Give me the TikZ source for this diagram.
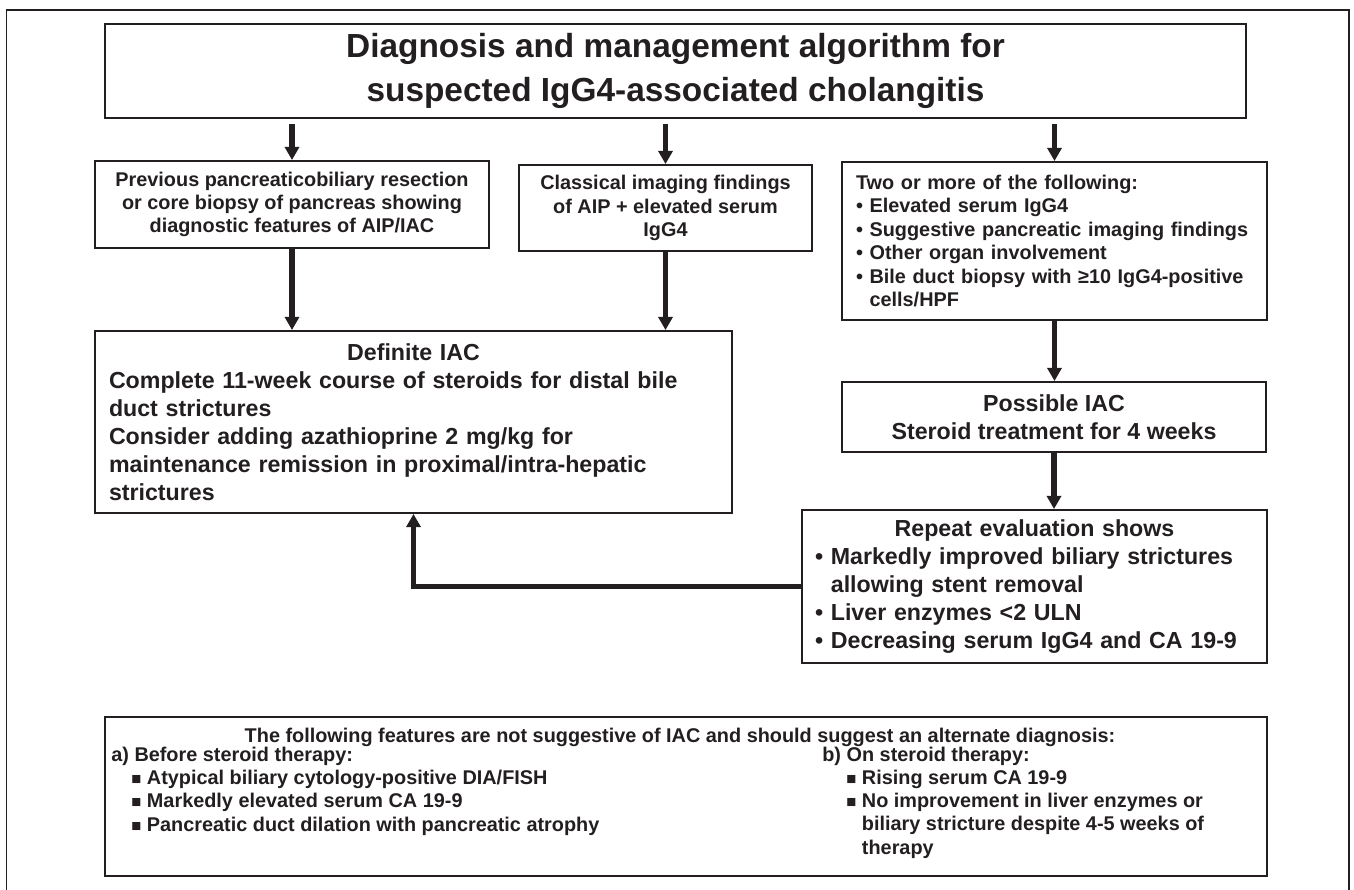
\documentclass[tikz,border=0pt]{standalone}
\usepackage{fontspec}
\setmainfont{Liberation Sans}
\usetikzlibrary{arrows.meta}
\pgfdeclarelayer{edgelayer}
\pgfdeclarelayer{nodelayer}
\pgfsetlayers{edgelayer,nodelayer,main}
\definecolor{ink}{RGB}{35,31,32}
\tikzset{font=\bfseries}
\tikzstyle{none}=[inner sep=0pt, text=ink]
\tikzstyle{box}=[rectangle, draw=ink, text=ink, line width=1.1pt, inner sep=0pt]
\tikzstyle{titlebox}=[box, font=\bfseries\fontsize{19}{24.9}\selectfont, align=center]
\tikzstyle{smallbox}=[box, font=\bfseries\fontsize{11.3}{13.3}\selectfont]
\tikzstyle{largebox}=[box, font=\bfseries\fontsize{13.2}{15.6}\selectfont]
\tikzstyle{notetext}=[none, font=\bfseries\fontsize{11.3}{13.2}\selectfont]
\tikzstyle{flow}=[draw=ink, line width=3.1pt, -{Triangle[width=8pt,length=7.5pt]}]
\newcommand{\bul}{•\ }
\newcommand{\hang}{\hphantom{•\ }}
\newcommand{\sq}{{\fontsize{9.5}{9.5}\selectfont ■}\ }

\begin{document}
\begin{tikzpicture}
	\useasboundingbox (0,0) rectangle (27.08,-17.78);
	\draw [ink, line width=0.85pt] (0.13,-18) -- (0.13,-0.2) -- (26.98,-0.2) -- (26.98,-18);
	\begin{pgfonlayer}{nodelayer}
		\node [style=titlebox, minimum width=22.82cm, minimum height=1.88cm] (0) at (13.51,-1.42) {Diagnosis and management algorithm for\\suspected IgG4-associated cholangitis};
		\node [style=smallbox, align=center, minimum width=7.88cm, minimum height=1.74cm] (1) at (5.84,-4.09) {Previous pancreaticobiliary resection\\or core biopsy of pancreas showing\\diagnostic features of AIP/IAC};
		\node [style=smallbox, align=center, minimum width=5.86cm, minimum height=1.72cm] (2) at (13.31,-4.16) {Classical imaging findings\\of AIP + elevated serum\\IgG4};
		\node [style=smallbox, align=left, text width=7.94cm, minimum width=8.5cm, minimum height=3.16cm] (3) at (21.09,-4.82) {Two or more of the following:\\\bul Elevated serum IgG4\\\bul Suggestive pancreatic imaging findings\\\bul Other organ involvement\\\bul Bile duct biopsy with ≥10 IgG4-positive\\\hang cells/HPF};
		\node [style=largebox, font=\bfseries\fontsize{13.2}{16}\selectfont, align=left, text width=12.18cm, minimum width=12.74cm, minimum height=3.64cm] (4) at (8.27,-8.44) {\noindent\makebox[\hsize]{Definite IAC}\\Complete 11-week course of steroids for distal bile\\duct strictures\\Consider adding azathioprine 2 mg/kg for\\maintenance remission in proximal/intra-hepatic\\strictures};
		\node [style=largebox, align=center, minimum width=8.48cm, minimum height=1.4cm] (5) at (21.08,-8.34) {Possible IAC\\Steroid treatment for 4 weeks};
		\node [style=largebox, font=\bfseries\fontsize{13.2}{15.9}\selectfont, align=left, text width=8.78cm, minimum width=9.3cm, minimum height=3.06cm] (6) at (20.69,-11.73) {\noindent\makebox[\hsize]{Repeat evaluation shows}\\\bul Markedly improved biliary strictures\\\hang allowing stent removal\\\bul Liver enzymes <2 ULN\\\bul Decreasing serum IgG4 and CA 19-9};
		\node [style=box, minimum width=23.24cm, minimum height=3.18cm] (7) at (13.72,-15.93) {};
		\node [style=notetext, anchor=base] (8) at (13.6,-14.84) {The following features are not suggestive of IAC and should suggest an alternate diagnosis:};
		\node [style=notetext, align=left, anchor=base west] (9) at (2.22,-16.62) {a) Before steroid therapy:\\\hspace*{0.4cm}\sq Atypical biliary cytology-positive DIA/FISH\\\hspace*{0.4cm}\sq Markedly elevated serum CA 19-9\\\hspace*{0.4cm}\sq Pancreatic duct dilation with pancreatic atrophy};
		\node [style=notetext, align=left, anchor=base west] (10) at (16.44,-17.08) {b) On steroid therapy:\\\hspace*{0.48cm}\sq Rising serum CA 19-9\\\hspace*{0.48cm}\sq No improvement in liver enzymes or\\\hspace*{0.48cm}\hphantom{\sq}biliary stricture despite 4-5 weeks of\\\hspace*{0.48cm}\hphantom{\sq}therapy};
	\end{pgfonlayer}
	\begin{pgfonlayer}{edgelayer}
		\draw [style=flow, shorten <=0.1cm] (1.north |- 0.south) to (1.north);
		\draw [style=flow, shorten <=0.1cm] (2.north |- 0.south) to (2.north);
		\draw [style=flow, shorten <=0.1cm] (3.north |- 0.south) to (3.north);
		\draw [style=flow] (1.south) to (1.south |- 4.north);
		\draw [style=flow] (2.south) to (2.south |- 4.north);
		\draw [style=flow] (3.south) to (3.south |- 5.north);
		\draw [style=flow] (5.south) to (5.south |- 6.north);
		\draw [style=flow] (6.west) -| (4.south);
	\end{pgfonlayer}
\end{tikzpicture}
\end{document}
